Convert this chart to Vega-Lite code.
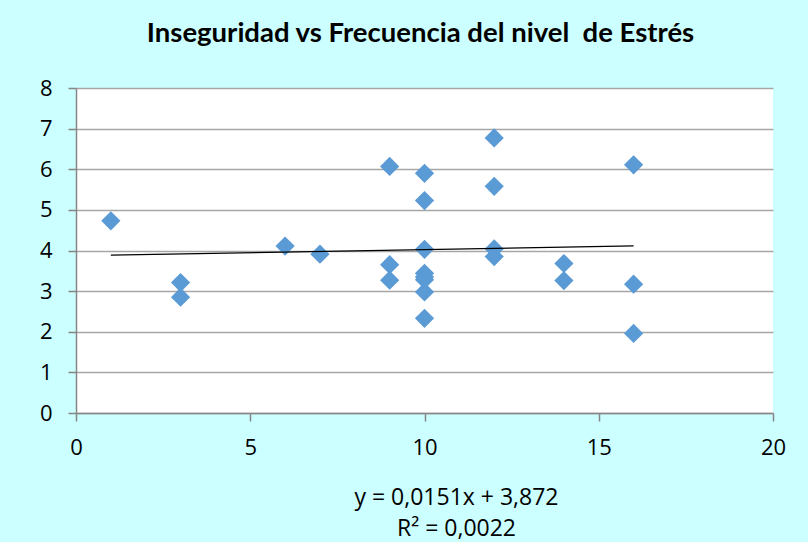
{
  "$schema": "https://vega.github.io/schema/vega-lite/v6.json",
  "width": 697,
  "height": 325,
  "autosize": {"type": "none"},
  "padding": {"left": 76, "top": 88, "right": 35, "bottom": 129},
  "background": "#ccffff",
  "title": {
    "text": "Inseguridad vs Frecuencia del nivel\u00a0 de Estrés",
    "font": "Lato",
    "fontSize": 27.5,
    "fontWeight": "bold",
    "color": "#000000",
    "anchor": "middle",
    "baseline": "alphabetic",
    "offset": 8,
    "dx": -4
  },
  "config": {
    "view": {"fill": "#ffffff", "stroke": null},
    "axis": {
      "labelFont": "Open Sans",
      "labelFontSize": 22,
      "labelColor": "#000000",
      "titleFont": "Open Sans",
      "titleFontSize": 23,
      "titleFontWeight": "normal",
      "titleColor": "#000000",
      "domainColor": "#868686",
      "domainWidth": 1.5,
      "tickColor": "#868686",
      "tickWidth": 1.5,
      "gridColor": "#a6a6a6",
      "gridWidth": 1.5,
      "tickSize": 8,
      "labelFlush": false
    }
  },
  "datasets": {
    "points": [
      {"inseguridad": 1, "estres": 4.73},
      {"inseguridad": 3, "estres": 3.21},
      {"inseguridad": 3, "estres": 2.85},
      {"inseguridad": 6, "estres": 4.11},
      {"inseguridad": 7, "estres": 3.91},
      {"inseguridad": 9, "estres": 6.07},
      {"inseguridad": 9, "estres": 3.65},
      {"inseguridad": 9, "estres": 3.27},
      {"inseguridad": 10, "estres": 5.9},
      {"inseguridad": 10, "estres": 5.23},
      {"inseguridad": 10, "estres": 4.03},
      {"inseguridad": 10, "estres": 3.44},
      {"inseguridad": 10, "estres": 3.35},
      {"inseguridad": 10, "estres": 3.28},
      {"inseguridad": 10, "estres": 2.98},
      {"inseguridad": 10, "estres": 2.33},
      {"inseguridad": 12, "estres": 6.77},
      {"inseguridad": 12, "estres": 5.58},
      {"inseguridad": 12, "estres": 4.04},
      {"inseguridad": 12, "estres": 3.85},
      {"inseguridad": 14, "estres": 3.68},
      {"inseguridad": 14, "estres": 3.26},
      {"inseguridad": 16, "estres": 6.11},
      {"inseguridad": 16, "estres": 3.17},
      {"inseguridad": 16, "estres": 1.96}
    ],
    "trend": [
      {"inseguridad": 1, "estres": 3.887},
      {"inseguridad": 16, "estres": 4.114}
    ]
  },
  "layer": [
    {
      "data": {"name": "points"},
      "mark": {"type": "point", "shape": "diamond", "filled": true, "size": 370, "color": "#5b9bd5", "opacity": 1},
      "encoding": {
        "x": {
          "field": "inseguridad",
          "type": "quantitative",
          "scale": {"domain": [0, 20], "nice": false},
          "axis": {
            "values": [0, 5, 10, 15, 20],
            "grid": false,
            "labelPadding": 16,
            "title": ["y = 0,0151x + 3,872", "R² = 0,0022"],
            "titleLineHeight": 31,
            "titleX": 380,
            "titlePadding": 28
          }
        },
        "y": {
          "field": "estres",
          "type": "quantitative",
          "scale": {"domain": [0, 8], "nice": false},
          "axis": {
            "values": [0, 1, 2, 3, 4, 5, 6, 7, 8],
            "grid": true,
            "labelPadding": 16,
            "title": null
          }
        }
      }
    },
    {
      "data": {"name": "trend"},
      "mark": {"type": "line", "color": "#000000", "strokeWidth": 1.3},
      "encoding": {
        "x": {"field": "inseguridad", "type": "quantitative"},
        "y": {"field": "estres", "type": "quantitative"}
      }
    }
  ]
}
